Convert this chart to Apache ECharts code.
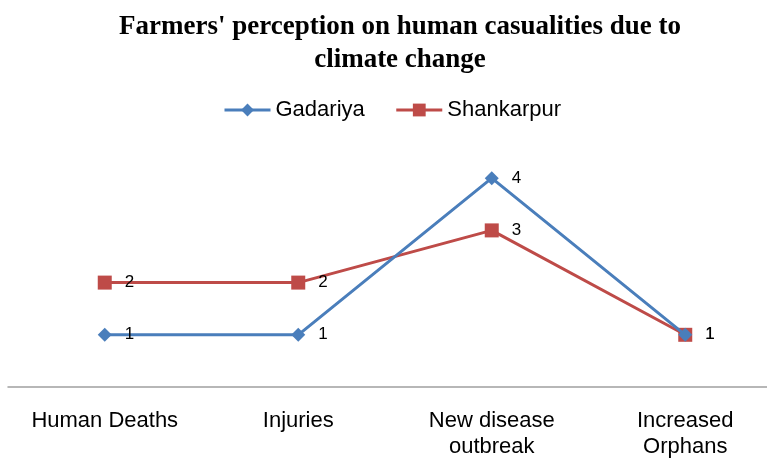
<!DOCTYPE html>
<html>
<head>
<meta charset="utf-8">
<script src="https://cdn.jsdelivr.net/npm/echarts@6/dist/echarts.min.js"></script>
<style>
    html, body { margin: 0; padding: 0; background: #fff; }
    #chart { width: 767px; height: 458px; }
</style>
</head>
<body>
<div id="chart"></div>
<script>
    var categories = ["Human Deaths", "Injuries", "New disease\noutbreak", "Increased\nOrphans"];
    var gadariya = [1, 1, 4, 1];
    var shankarpur = [2, 2, 3, 1];

    var myChart = echarts.init(document.getElementById("chart"));

    var labelStyle = {
        show: true,
        position: "right",
        distance: 13,
        fontFamily: "Liberation Sans, Arial, sans-serif",
        fontSize: 17,
        color: "#000"
    };

    var option = {
        animation: false,
        title: {
            text: "Farmers' perception on human casualities due to\nclimate change",
            left: 395,
            textAlign: "center",
            top: 6,
            textStyle: {
                fontFamily: "Liberation Serif, Times New Roman, serif",
                fontWeight: "bold",
                fontSize: 27,
                lineHeight: 33,
                color: "#000"
            }
        },
        legend: {
            top: 94,
            left: 218,
            itemGap: 30,
            itemWidth: 46,
            itemHeight: 16,
            lineStyle: { width: 3 },
            textStyle: {
                fontFamily: "Liberation Sans, Arial, sans-serif",
                fontSize: 22,
                color: "#000"
            },
            data: ["Gadariya", "Shankarpur"]
        },
        grid: {
            left: 8,
            right: -15,
            top: 126,
            bottom: 71,
            outerBoundsMode: "none"
        },
        xAxis: {
            type: "category",
            data: categories,
            boundaryGap: true,
            axisLine: { lineStyle: { color: "#a0a0a0", width: 1.5 } },
            axisTick: { show: false },
            axisLabel: {
                margin: 21,
                interval: 0,
                fontFamily: "Liberation Sans, Arial, sans-serif",
                fontSize: 22,
                lineHeight: 26,
                color: "#000"
            }
        },
        yAxis: {
            type: "value",
            min: 0,
            max: 5,
            interval: 1,
            show: false,
            splitLine: { show: false }
        },
        series: [
            {
                name: "Gadariya",
                type: "line",
                data: gadariya,
                symbol: "diamond",
                symbolSize: 14,
                itemStyle: { color: "#4a7ebb" },
                lineStyle: { color: "#4a7ebb", width: 3 },
                label: labelStyle,
                z: 3
            },
            {
                name: "Shankarpur",
                type: "line",
                data: shankarpur,
                symbol: "rect",
                symbolSize: 14,
                itemStyle: { color: "#be4b48" },
                lineStyle: { color: "#be4b48", width: 3 },
                label: labelStyle,
                z: 2
            }
        ]
    };

    option && myChart.setOption(option);
</script>
</body>
</html>
